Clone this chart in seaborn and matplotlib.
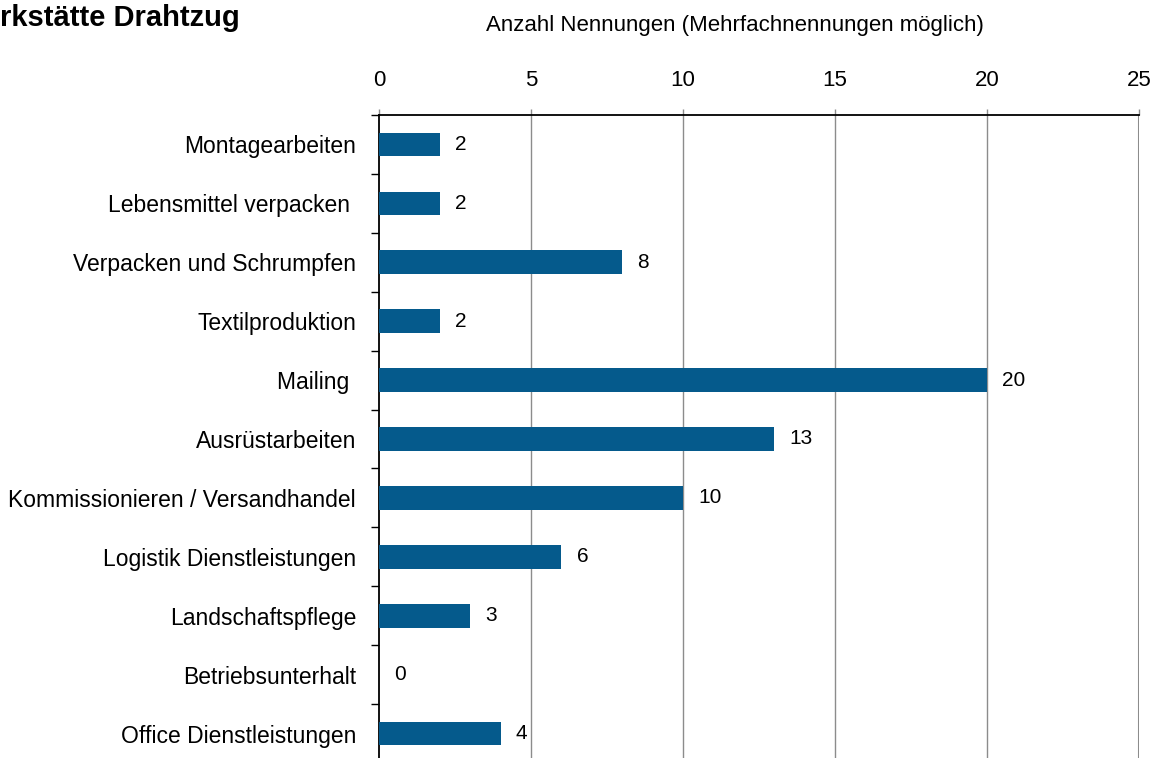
import matplotlib
matplotlib.use("Agg")
import matplotlib.pyplot as plt
import seaborn as sns
import numpy as np
import pandas as pd

categories = [
    "Montagearbeiten",
    "Lebensmittel verpacken ",
    "Verpacken und Schrumpfen",
    "Textilproduktion",
    "Mailing ",
    "Ausrüstarbeiten",
    "Kommissionieren / Versandhandel",
    "Logistik Dienstleistungen",
    "Landschaftspflege",
    "Betriebsunterhalt",
    "Office Dienstleistungen",
]
counts = [2, 2, 8, 2, 20, 13, 10, 6, 3, 0, 4]
x_ticks = [0, 5, 10, 15, 20, 25]

title = "rkstätte Drahtzug"
x_label = "Anzahl Nennungen (Mehrfachnennungen möglich)"

bar_color = "#055A8C"
grid_color = "#8C8C8C"

sns.set_theme(style="white")
plt.rcParams["font.family"] = ["Liberation Sans", "DejaVu Sans"]
plt.rcParams["text.color"] = "black"
plt.rcParams["xtick.color"] = "black"
plt.rcParams["ytick.color"] = "black"

df = pd.DataFrame({"Tätigkeit": categories, "Nennungen": counts})

fig = plt.figure(figsize=(11.57, 7.58), dpi=100)
ax = fig.add_axes([379 / 1157, 1 - 763 / 758, (1139 - 379) / 1157, (763 - 115) / 758])

sns.barplot(data=df, x="Nennungen", y="Tätigkeit", color=bar_color, width=0.4,
            saturation=1, edgecolor="none", ax=ax, zorder=3)

ax.set_xlim(0, 25)
ax.set_xticks(x_ticks)
ax.xaxis.tick_top()
ax.xaxis.set_label_position("top")
ax.set_xlabel("")
ax.set_ylabel("")
ax.tick_params(axis="x", which="major", top=True, bottom=False, length=4, width=1,
               color=grid_color, labelcolor="black", pad=13, labelsize=16,
               direction="out")

# category labels centred in slots, short tick marks at slot boundaries
ax.tick_params(axis="y", which="major", length=0, pad=16.5, labelsize=16.5,
               labelcolor="black")
ax.set_yticks(np.arange(-0.5, len(categories) + 0.5, 1.0), minor=True)
ax.tick_params(axis="y", which="minor", left=True, length=6, width=1, color="black",
               direction="out")

for v in x_ticks[1:-1]:
    ax.axvline(v, color=grid_color, lw=1, zorder=1)
ax.axvline(25, color=grid_color, lw=2.2, zorder=1)

for side in ["bottom", "right"]:
    ax.spines[side].set_visible(False)
for side in ["top", "left"]:
    ax.spines[side].set_visible(True)
    ax.spines[side].set_color("black")
    ax.spines[side].set_linewidth(1.3)

for i, c in enumerate(counts):
    ax.annotate(str(c), xy=(c, i), xytext=(11, 0), textcoords="offset points",
                ha="left", va="center", fontsize=15, color="black")

fig.text(735 / 1157, 1 - 25 / 758, x_label, ha="center", va="center", fontsize=16)
fig.text(0.5 / 1157, 1 - 18 / 758, title, ha="left", va="center", fontsize=21,
         fontweight="bold")

fig.savefig("out.png", dpi=100)
